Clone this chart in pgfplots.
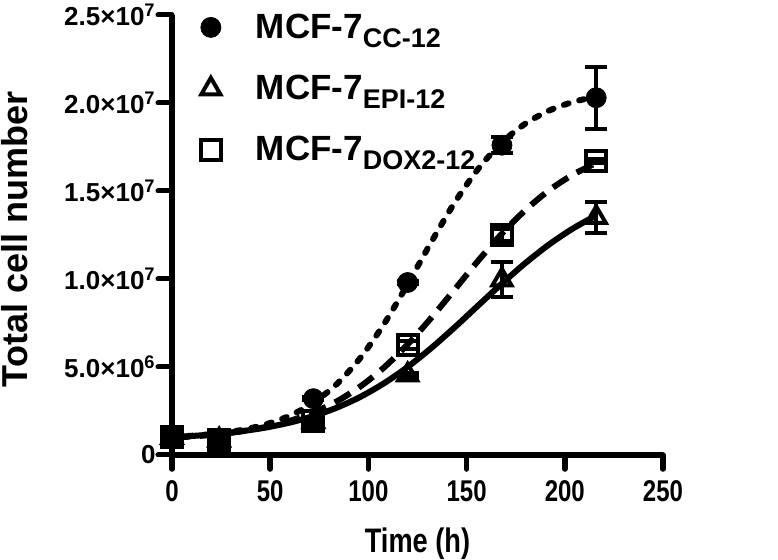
\documentclass[border=0pt]{standalone}
\usepackage{pgfplots}
\pgfplotsset{compat=1.18}
\usepackage{fontspec}
\setmainfont{Liberation Sans}
\newfontfamily\narrowfont{Liberation Sans}[FakeStretch=0.8]
\begin{document}
\begin{tikzpicture}
\begin{axis}[
  name=ax,
  scale only axis, width=245.5pt, height=220pt,
  xmin=0, xmax=250, ymin=0, ymax=2.5e7,
  axis x line*=bottom, axis y line*=left,
  axis line style={line width=3pt},
  tick align=outside,
  xtick={0,50,100,150,200,250},
  xticklabels={0,50,100,150,200,250},
  ytick={0,5e6,1e7,1.5e7,2e7,2.5e7},
  yticklabels={0,5.0×10\textsuperscript{6},1.0×10\textsuperscript{7},1.5×10\textsuperscript{7},2.0×10\textsuperscript{7},2.5×10\textsuperscript{7}},
  xticklabel style={font=\narrowfont\bfseries\fontsize{15}{15}\selectfont, anchor=center, yshift=-11pt},
  yticklabel style={font=\bfseries\fontsize{13}{13}\selectfont, anchor=east, inner xsep=1pt},
  tick style={line width=2.5pt, black, line cap=round},
  xtick style={black, line width=2.8pt},
  major tick length=7pt,
  scaled y ticks=false,
  xlabel={Time (h)}, ylabel={Total cell number},
  every axis x label/.style={at={(axis description cs:0.5,0)}, anchor=center, yshift=-44.5pt,
    font=\narrowfont\bfseries\fontsize{17}{17}\selectfont},
  every axis y label/.style={at={(axis description cs:-0.32,0.49)}, anchor=center, rotate=90,
    font=\bfseries\fontsize{18}{18}\selectfont},
  clip=false,
  legend style={at={(axis description cs:0.058,1.013)}, anchor=north west, draw=none, fill=none,
    inner sep=0pt, row sep=13pt, column sep=15.5pt,
    font=\bfseries\fontsize{17.5}{17.5}\selectfont},
  legend cell align=left,
]
% fitted curves
\addplot[black, line width=3pt, dash pattern=on 2.5pt off 5.5pt, line cap=round, smooth, forget plot] coordinates {
(0,1.030e6)(12,1.107e6)(24,1.233e6)(36,1.432e6)(48,1.747e6)(60,2.233e6)(72,2.968e6)(84,4.042e6)(96,5.530e6)(108,7.449e6)(120,9.707e6)(132,12.094e6)(144,14.352e6)(156,16.270e6)(168,17.758e6)(180,18.833e6)(192,19.567e6)(204,20.053e6)(216,20.368e6)};
\addplot[black, line width=3pt, smooth, forget plot] coordinates {
(0,1.012e6)(12,1.093e6)(24,1.204e6)(36,1.357e6)(48,1.564e6)(60,1.841e6)(72,2.210e6)(84,2.693e6)(96,3.308e6)(108,4.078e6)(120,5.003e6)(132,6.076e6)(144,7.260e6)(156,8.504e6)(168,9.74e6)(180,10.91e6)(192,11.96e6)(204,12.86e6)(216,13.61e6)};
\addplot[black, line width=3pt, dash pattern=on 9pt off 5pt, smooth, forget plot] coordinates {
(0,0.984e6)(12,1.066e6)(24,1.185e6)(36,1.356e6)(48,1.599e6)(60,1.939e6)(72,2.411e6)(84,3.052e6)(96,3.900e6)(108,4.977e6)(120,6.286e6)(132,7.792e6)(144,9.412e6)(156,11.05e6)(168,12.58e6)(180,13.92e6)(192,15.04e6)(204,15.92e6)(216,16.59e6)};
% data
\addplot[only marks, mark=*, mark size=5pt, black, mark options={fill=black},
  error bars/.cd, y dir=both, y explicit,
  error bar style={line width=2pt}, error mark options={rotate=90, mark size=5.5pt, line width=2pt}]
  coordinates {(0,1.0e6)+-(0,0.4e6) (24,0.85e6)+-(0,0.4e6) (72,3.2e6)+-(0,0.1e6) (120,9.8e6)+-(0,0.1e6) (168,17.6e6)+-(0,0.45e6) (216,20.3e6)+-(0,1.75e6)};
\addlegendentry{MCF-7\raisebox{-4.5pt}{\fontsize{13.5}{13.5}\selectfont CC-12}}
\addplot[only marks, mark=triangle, mark size=5.5pt, black, mark options={line width=2pt, fill=white},
  error bars/.cd, y dir=both, y explicit,
  error bar style={line width=2pt}, error mark options={rotate=90, mark size=5.5pt, line width=2pt}]
  coordinates {(0,1.0e6)+-(0,0.4e6) (24,0.85e6)+-(0,0.4e6) (72,1.9e6)+-(0,0.1e6) (120,4.55e6)+-(0,0.1e6) (168,9.95e6)+-(0,1.0e6) (216,13.5e6)+-(0,0.9e6)};
\addlegendentry{MCF-7\raisebox{-4.5pt}{\fontsize{13.5}{13.5}\selectfont EPI-12}}
\addplot[only marks, mark=square, mark size=5pt, black, mark options={line width=2pt, fill=white},
  error bars/.cd, y dir=both, y explicit,
  error bar style={line width=2pt}, error mark options={rotate=90, mark size=5.5pt, line width=2pt}]
  coordinates {(0,1.0e6)+-(0,0.4e6) (24,0.85e6)+-(0,0.4e6) (72,1.95e6)+-(0,0.1e6) (120,6.25e6)+-(0,0.2e6) (168,12.5e6)+-(0,0.35e6) (216,16.7e6)+-(0,0.1e6)};
\addlegendentry{MCF-7\raisebox{-4.5pt}{\fontsize{13.5}{13.5}\selectfont DOX2-12}}
\end{axis}
\pgfresetboundingbox
\path[use as bounding box] (ax.south west) ++(-86pt,-52.5pt) rectangle ++(389pt,280pt);
\end{tikzpicture}
\end{document}
